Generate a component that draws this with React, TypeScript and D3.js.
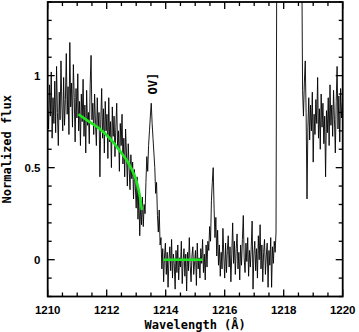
import React from "react";
import * as d3 from "d3";

// Spectrum sampling
const lambdaStart = 1210;
const lambdaStep = 0.03;

// Flux segments, consecutive samples
const fluxBlueContinuum = [
  0.82, 0.71, 0.95, 0.78, 1.02, 0.66, 0.88, 0.74, 0.97, 0.69,
  1.05, 0.80, 0.62, 0.91, 0.76, 1.08, 0.84, 0.70, 0.99, 0.73,
  0.87, 1.12, 0.79, 0.94, 0.68, 1.18, 0.83, 0.96, 0.72, 1.06,
  0.88, 0.64, 0.93, 0.77, 1.01, 0.70, 0.86, 0.62, 0.90, 0.75,
  0.98, 0.67, 0.84, 0.58, 0.92, 0.73, 0.80, 0.63, 0.95, 1.11, 0.76,
];
const fluxDampedWing = [
  0.85, 0.68, 0.90, 0.74, 0.62, 0.88, 0.71, 0.80, 0.45,
  0.76, 0.93, 0.66, 0.82, 0.58, 0.86, 0.70, 0.79, 0.55, 0.88,
  0.64, 0.75, 0.50, 0.83, 0.67, 0.78, 0.56, 0.72, 0.85, 0.60,
  0.70, 0.48, 0.74, 0.62, 0.79, 0.52, 0.66, 0.45, 0.71, 0.58,
  0.40, 0.63, 0.50, 0.38, 0.57, 0.44, 0.53, 0.33, 0.49, 0.40,
  0.28, 0.45, 0.22, 0.36, 0.13, 0.30, 0.19, 0.34,
];
const fluxOV = [
  0.18, 0.30, 0.25, 0.42, 0.56, 0.48, 0.62, 0.70, 0.78, 0.85,
  0.74, 0.66, 0.58, 0.50, 0.36, 0.42, 0.24, 0.15, 0.27, 0.08,
];
const fluxTroughA = [
  0.12, -0.05, 0.06, -0.12, 0.02, 0.09, -0.08, 0.04, -0.15, 0.0,
  0.07, -0.06, 0.11, -0.1, 0.03, -0.02, -0.16, 0.05, -0.07, 0.08,
  -0.11, 0.01, -0.04, 0.1, -0.13, -0.01, 0.06, -0.09, 0.03, -0.17,
  0.04, -0.06, 0.12, -0.03, -0.12, 0.02, 0.07, -0.08, -0.01, 0.05,
  -0.14, 0.09, -0.05, 0.01, -0.1, 0.06, -0.02, 0.11, -0.07, 0.03,
  -0.11, 0.08, -0.04, 0.1,
];
const fluxSpike = [0.05, 0.18, 0.1, 0.32, 0.42, 0.5, 0.28, 0.12, 0.23, 0.02, 0.16];
const fluxTroughB = [
  -0.03, 0.08, -0.09, 0.04, -0.05, 0.17, 0.02, -0.1, 0.09, -0.07,
  0.05, 0.13, -0.04, 0.07, -0.12, 0.03, 0.2, -0.02, 0.1, -0.08,
  0.06, 0.14, -0.05, 0.04, -0.11, 0.08, -0.03, 0.11, 0.24, 0.01,
  -0.07, 0.09, -0.01, 0.12, -0.09, 0.05, -0.04, 0.07, 0.21, -0.16,
  0.03, 0.1, -0.06, 0.06, -0.1, 0.13, 0.0, 0.19, -0.05, 0.08,
  -0.12, 0.04, 0.11, -0.08, 0.02, 0.09, -0.15, 0.05, -0.03, 0.12,
  -0.15, 0.07, -0.02, 0.1, 0.04, 0.15,
];
const fluxGeocoronal = [
  1.95, 2.7, 2.95, 3.4, 3.25, 3.7, 3.55, 3.85, 3.6, 3.9,
  3.72, 3.95, 3.66, 3.8, 3.5, 3.72, 3.38, 3.55, 3.2, 3.35,
  2.98, 3.1, 2.7, 2.82, 2.4, 2.5, 2.1, 1.95, 1.72,
];
const fluxRedContinuum = [
  0.92, 0.78, 0.96, 1.08, 0.8, 0.33, 0.72, 0.88, 0.65, 0.84,
  0.7, 0.91, 0.53, 0.79, 0.68, 0.87, 0.74, 0.99, 0.66, 0.82,
  0.6, 0.9, 0.72, 0.85, 0.63, 0.78, 0.45, 0.81, 0.69, 0.88,
  0.62, 0.95, 0.73, 0.84, 0.67, 0.92, 0.76, 0.58, 0.86, 1.05,
  0.71, 0.89, 0.64, 0.93, 0.77, 0.85,
];

// Model curves (green)
const wingModelLambda = [1211.04, 1211.4, 1211.77, 1212.1, 1212.45, 1212.79, 1213.02, 1213.13, 1213.19];
const wingModelFlux = [0.79, 0.75, 0.71, 0.66, 0.59, 0.51, 0.42, 0.34, 0.27];
const troughModelLambda = [1213.92, 1215.25];
const troughModelFlux = [0, 0];

// Axes
const xDomain = [1210, 1220];
const yDomain = [-0.2, 1.4];
const xMajorTicks = [1210, 1212, 1214, 1216, 1218, 1220];
const yMajorTicks = [0, 0.5, 1];
const yTickLabels = ["0", "0.5", "1"];
const lineLabel = "OV]";
const lineLabelLambda = 1213.52;
const lineLabelFlux = 1.0;

const W = 359;
const H = 332;
const L = 47.7, R = 342.7, T = 2, B = 296.5;

export default function App() {
  const x = d3.scaleLinear().domain(xDomain).range([L, R]);
  const y = d3.scaleLinear().domain(yDomain).range([B, T]);

  const flux = [
    ...fluxBlueContinuum,
    ...fluxDampedWing,
    ...fluxOV,
    ...fluxTroughA,
    ...fluxSpike,
    ...fluxTroughB,
    ...fluxGeocoronal,
    ...fluxRedContinuum,
  ];
  const spec = flux.map((f, i) => [lambdaStart + i * lambdaStep, f] as [number, number]);
  const line = d3.line<[number, number]>().x((d) => x(d[0])).y((d) => y(d[1]));
  const specPath = line(spec) || "";

  const wing = wingModelLambda.map((l, i) => [l, wingModelFlux[i]] as [number, number]);
  const wingPath = d3.line<[number, number]>().x((d) => x(d[0])).y((d) => y(d[1])).curve(d3.curveMonotoneX)(wing) || "";
  const trough = troughModelLambda.map((l, i) => [l, troughModelFlux[i]] as [number, number]);
  const troughPath = line(trough) || "";

  const xMinor = d3.range(0, 21).map((i) => xDomain[0] + i * 0.5);
  const yMinor = d3.range(0, 17).map((i) => Math.round((yDomain[0] + i * 0.1) * 10) / 10);

  const major = 7;
  const minor = 4;
  const tickFont = "'Liberation Sans', Arial, sans-serif";
  const titleFont = "'DejaVu Sans Mono', monospace";

  return (
    <svg width={W} height={H} style={{ position: "absolute", left: 0, top: 0, background: "#fff" }}>
      <defs>
        <clipPath id="plotclip">
          <rect x={L} y={T} width={R - L} height={B - T} />
        </clipPath>
      </defs>
      <g clipPath="url(#plotclip)">
        <path d={specPath} fill="none" stroke="#000" strokeWidth={0.9} strokeLinejoin="miter" />
        <path d={wingPath} fill="none" stroke="#1ee61e" strokeWidth={2.6} />
        <path d={troughPath} fill="none" stroke="#1ee61e" strokeWidth={2.6} />
      </g>
      {/* ticks */}
      <g stroke="#000" strokeWidth={1.3}>
        {xMinor.map((v) => {
          const len = xMajorTicks.includes(v) ? major : minor;
          return (
            <g key={"xt" + v}>
              <line x1={x(v)} x2={x(v)} y1={B} y2={B - len} />
              <line x1={x(v)} x2={x(v)} y1={T} y2={T + len} />
            </g>
          );
        })}
        {yMinor.map((v) => {
          const len = yMajorTicks.includes(v) ? major : minor;
          return (
            <g key={"yt" + v}>
              <line x1={L} x2={L + len} y1={y(v)} y2={y(v)} />
              <line x1={R} x2={R - len} y1={y(v)} y2={y(v)} />
            </g>
          );
        })}
      </g>
      <rect x={L} y={T} width={R - L} height={B - T} fill="none" stroke="#000" strokeWidth={1.8} />
      {/* tick labels */}
      <g fontFamily={tickFont} fontWeight="bold" fontSize={11.5} fill="#000">
        {xMajorTicks.map((v) => (
          <text key={"xl" + v} x={x(v)} y={313.5} textAnchor="middle">
            {v}
          </text>
        ))}
        {yMajorTicks.map((v, i) => (
          <text key={"yl" + v} x={40.5} y={y(v) + 4.2} textAnchor="end">
            {yTickLabels[i]}
          </text>
        ))}
      </g>
      {/* titles */}
      <g fontFamily={titleFont} fontWeight="bold" fontSize={12} fill="#000">
        <text x={(L + R) / 2} y={328.5} textAnchor="middle">
          Wavelength (Å)
        </text>
        <text transform={`translate(10.5, ${(T + B) / 2}) rotate(-90)`} textAnchor="middle">
          Normalized flux
        </text>
        <text
          transform={`translate(${x(lineLabelLambda) + 5.5}, ${y(lineLabelFlux) + 8}) rotate(-90)`}
          textAnchor="middle"
        >
          {lineLabel}
        </text>
      </g>
    </svg>
  );
}
